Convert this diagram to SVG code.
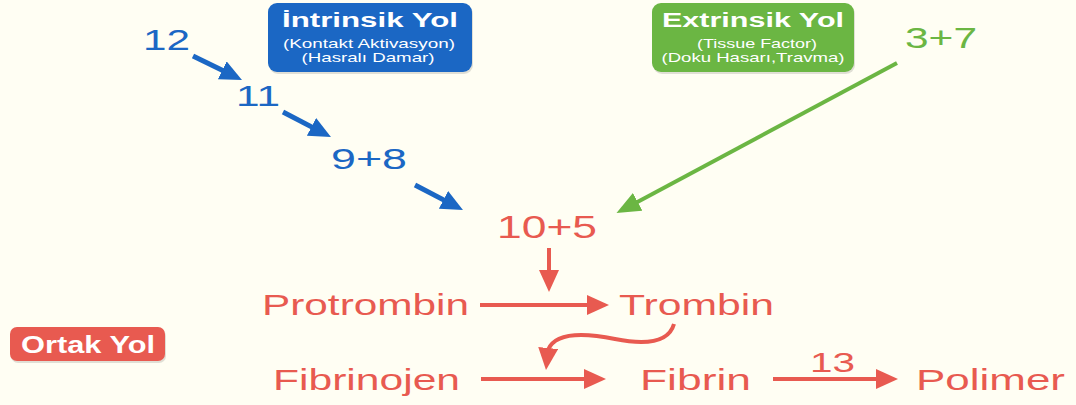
<svg xmlns="http://www.w3.org/2000/svg" width="1076" height="405" viewBox="0 0 1076 405">
<defs>
<style>
.t{font-family:"Liberation Sans",Arial,sans-serif}
.b{font-weight:bold;fill:#fff}
.s{fill:#fff;font-size:13px}
.blue{fill:#1B67C4}
.green{fill:#6BB643}
.red{fill:#E85A50}
.lb{stroke:#1B67C4;stroke-width:5;fill:none}
.lg{stroke:#6BB643;stroke-width:4;fill:none}
.lr{stroke:#E85A50;stroke-width:4;fill:none}
</style>
<marker id="hb" viewBox="0 0 22 20" refX="12" refY="10" markerWidth="22" markerHeight="20" markerUnits="userSpaceOnUse" orient="auto"><path d="M0,0 L22,10 L0,20 z" fill="#1B67C4"/></marker>
<marker id="hg" viewBox="0 0 24 20" refX="14" refY="10" markerWidth="24" markerHeight="20" markerUnits="userSpaceOnUse" orient="auto"><path d="M0,0 L24,10 L0,20 z" fill="#6BB643"/></marker>
<marker id="hr" viewBox="0 0 22 20" refX="12" refY="10" markerWidth="22" markerHeight="20" markerUnits="userSpaceOnUse" orient="auto"><path d="M0,0 L22,10 L0,20 z" fill="#E85A50"/></marker>
</defs>
<rect width="1076" height="405" fill="#FFFEF3"/>

<g id="intrinsic-box">
<rect x="269" y="5" width="204" height="69" rx="9" fill="#000" opacity="0.12"/>
<rect x="268" y="3" width="204" height="69" rx="9" fill="#1B67C4"/>
<text class="t b" x="370" y="27" font-size="20" text-anchor="middle" textLength="176" lengthAdjust="spacingAndGlyphs">İntrinsik Yol</text>
<text class="t s" x="369" y="48" text-anchor="middle" textLength="172" lengthAdjust="spacingAndGlyphs">(Kontakt Aktivasyon)</text>
<text class="t s" x="368" y="62" text-anchor="middle" textLength="133" lengthAdjust="spacingAndGlyphs">(Hasralı Damar)</text>
</g>

<g id="extrinsic-box">
<rect x="653" y="5" width="202" height="69" rx="9" fill="#000" opacity="0.12"/>
<rect x="652" y="3" width="202" height="69" rx="9" fill="#6BB643"/>
<text class="t b" x="753" y="27" font-size="20" text-anchor="middle" textLength="182" lengthAdjust="spacingAndGlyphs">Extrinsik Yol</text>
<text class="t s" x="757" y="48" text-anchor="middle" textLength="120" lengthAdjust="spacingAndGlyphs">(Tissue Factor)</text>
<text class="t s" x="753" y="62" text-anchor="middle" textLength="183" lengthAdjust="spacingAndGlyphs">(Doku Hasarı,Travma)</text>
</g>

<g id="ortak-box">
<rect x="11" y="329" width="155" height="34" rx="7" fill="#000" opacity="0.12"/>
<rect x="10" y="327" width="155" height="34" rx="7" fill="#E85A50"/>
<text class="t b" x="88" y="353" font-size="24" text-anchor="middle" textLength="134" lengthAdjust="spacingAndGlyphs">Ortak Yol</text>
</g>

<g id="n12"><text class="t blue" x="143" y="50" font-size="30" textLength="47" lengthAdjust="spacingAndGlyphs">12</text></g>
<g id="n11"><text class="t blue" x="236" y="106" font-size="30" textLength="44" lengthAdjust="spacingAndGlyphs">11</text></g>
<g id="n98"><text class="t blue" x="331" y="169" font-size="30" textLength="76" lengthAdjust="spacingAndGlyphs">9+8</text></g>
<g id="n37"><text class="t green" x="905" y="48" font-size="30" textLength="72" lengthAdjust="spacingAndGlyphs">3+7</text></g>
<g id="n105"><text class="t red" x="497" y="238" font-size="31" textLength="100" lengthAdjust="spacingAndGlyphs">10+5</text></g>
<g id="protrombin"><text class="t red" x="262" y="315" font-size="30" textLength="207" lengthAdjust="spacingAndGlyphs">Protrombin</text></g>
<g id="trombin"><text class="t red" x="619" y="315" font-size="30" textLength="155" lengthAdjust="spacingAndGlyphs">Trombin</text></g>
<g id="fibrinojen"><text class="t red" x="273" y="390" font-size="30" textLength="187" lengthAdjust="spacingAndGlyphs">Fibrinojen</text></g>
<g id="fibrin"><text class="t red" x="640" y="390" font-size="30" textLength="111" lengthAdjust="spacingAndGlyphs">Fibrin</text></g>
<g id="polimer"><text class="t red" x="916" y="390" font-size="30" textLength="149" lengthAdjust="spacingAndGlyphs">Polimer</text></g>

<g id="connectors">
<line class="lb" x1="193" y1="56" x2="233" y2="75.6" marker-end="url(#hb)"/>
<line class="lb" x1="283" y1="112" x2="322.1" y2="132.4" marker-end="url(#hb)"/>
<line class="lb" x1="415" y1="185" x2="454.1" y2="205.4" marker-end="url(#hb)"/>
<line class="lg" x1="897" y1="63" x2="625.3" y2="208.4" marker-end="url(#hg)"/>
<line class="lr" x1="549" y1="248" x2="549" y2="282" marker-end="url(#hr)"/>
<line class="lr" x1="480" y1="305" x2="599" y2="305" marker-end="url(#hr)"/>
<path class="lr" d="M674,324 C668,345 640,344 615,339 C590,334 556,330 548,350 L547,360" marker-end="url(#hr)"/>
<line class="lr" x1="481" y1="379" x2="596" y2="379" marker-end="url(#hr)"/>
<line class="lr" x1="773" y1="379" x2="888" y2="379" marker-end="url(#hr)"/>
<text class="t red" x="810" y="372" font-size="28" textLength="45" lengthAdjust="spacingAndGlyphs">13</text>
</g>
</svg>
